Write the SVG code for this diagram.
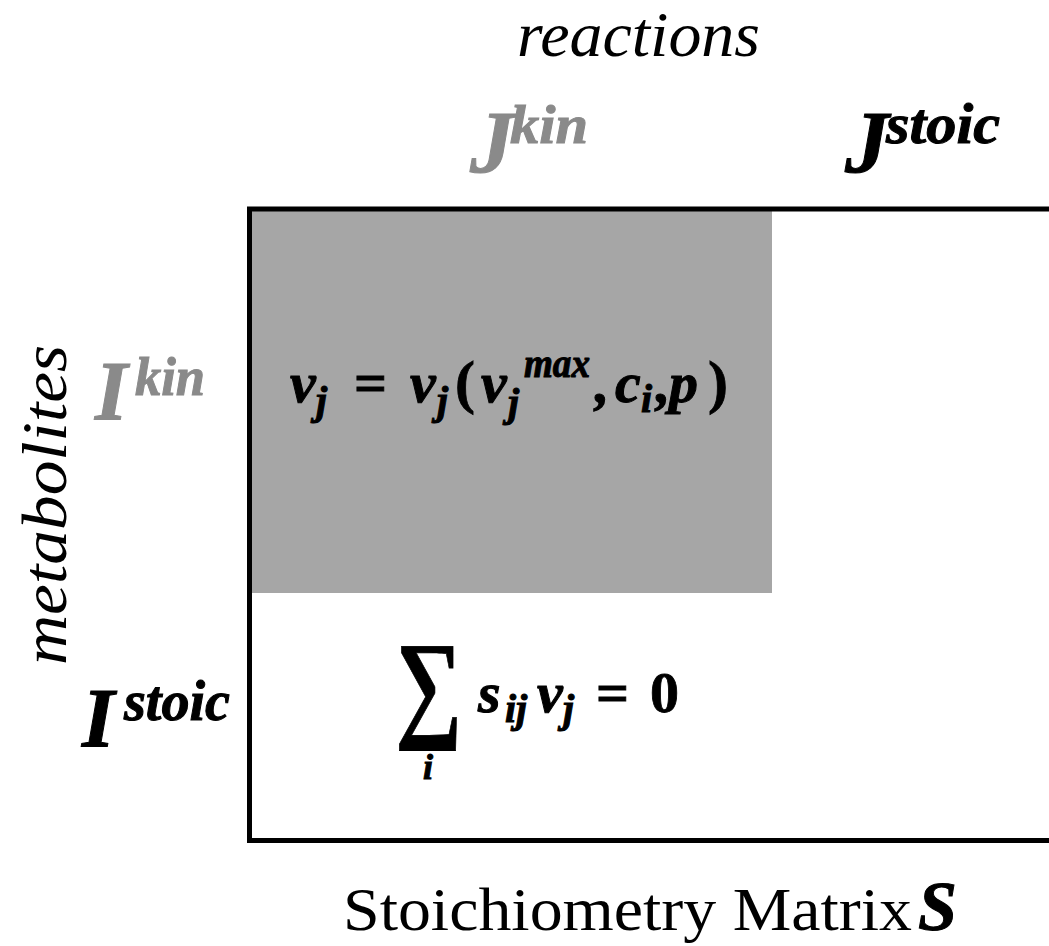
<svg xmlns="http://www.w3.org/2000/svg" width="1049" height="946" viewBox="0 0 1049 946">
<style>
.lab{font-family:"Liberation Serif",serif;font-style:italic;}
.bi{font-family:"Liberation Serif",serif;font-style:italic;font-weight:bold;stroke-width:1;}
.b{font-family:"Liberation Serif",serif;font-weight:bold;stroke-width:0.8;}
.gray{fill:#8a8a8a;stroke:#8a8a8a;}
.blk{fill:#000;stroke:#000;}
.m{font-size:58px;}
.sub{font-size:40px;}
</style>
<rect width="1049" height="946" fill="#fff"/>
<g id="kin-block">
<rect x="249.5" y="209" width="522.5" height="384" fill="#a6a6a6"/>
</g>
<g id="matrix">
<path d="M1055,209 H249.5 V840.5 H1055" fill="none" stroke="#000" stroke-width="5"/>
</g>
<g id="connectors"></g>
<g id="reactions-label">
<text class="lab" x="517" y="56" font-size="64" textLength="243" lengthAdjust="spacingAndGlyphs">reactions</text>
</g>
<g id="metabolites-label">
<text class="lab" font-size="64" text-anchor="middle" transform="translate(66,505) rotate(-90)" textLength="320" lengthAdjust="spacingAndGlyphs">metabolites</text>
</g>
<g id="J-kin" class="gray">
<text class="bi" x="470" y="172" font-size="88">J</text>
<text class="bi" x="510" y="143" font-size="54" textLength="78" lengthAdjust="spacingAndGlyphs">kin</text>
</g>
<g id="J-stoic" class="blk">
<text class="bi" x="845" y="172" font-size="88">J</text>
<text class="bi" x="886" y="143" font-size="56" textLength="114" lengthAdjust="spacingAndGlyphs">stoic</text>
</g>
<g id="I-kin" class="gray">
<text class="bi" x="95" y="420" font-size="84">I</text>
<text class="bi" x="135" y="395" font-size="54" textLength="70" lengthAdjust="spacingAndGlyphs">kin</text>
</g>
<g id="I-stoic" class="blk">
<text class="bi" x="82" y="747" font-size="84">I</text>
<text class="bi" x="124" y="720" font-size="56" textLength="106" lengthAdjust="spacingAndGlyphs">stoic</text>
</g>
<g id="kinetic-eq" class="blk">
<text class="bi m" x="290" y="402">v</text>
<text class="bi sub" x="316" y="414">j</text>
<text class="b m" x="354" y="402">=</text>
<text class="bi m" x="410" y="402">v</text>
<text class="bi sub" x="437" y="414">j</text>
<text class="b" x="455" y="402" font-size="60">(</text>
<text class="bi m" x="481" y="402">v</text>
<text class="bi sub" x="508" y="416">j</text>
<text class="bi sub" x="524" y="377" textLength="66" lengthAdjust="spacingAndGlyphs">max</text>
<text class="bi m" x="595" y="402">,</text>
<text class="bi m" x="615" y="402">c</text>
<text class="bi sub" x="641" y="412">i</text>
<text class="bi m" x="656" y="402">,</text>
<text class="bi m" x="669" y="402">p</text>
<text class="b" x="708" y="402" font-size="60">)</text>
</g>
<g id="stoic-eq" class="blk">
<text class="b" x="395" y="725" font-size="120" textLength="67" lengthAdjust="spacingAndGlyphs">∑</text>
<text class="bi" x="423" y="779" font-size="36">i</text>
<text class="bi m" x="478" y="712">s</text>
<text class="bi sub" x="505" y="722">ij</text>
<text class="bi m" x="537" y="712">v</text>
<text class="bi sub" x="563" y="722">j</text>
<text class="b m" x="596" y="712">=</text>
<text class="b m" x="650" y="712">0</text>
</g>
<g id="matrix-label">
<text x="343" y="930" font-family="Liberation Serif, serif" font-size="62" textLength="569" lengthAdjust="spacingAndGlyphs">Stoichiometry Matrix</text>
<text class="bi" x="918" y="930" font-size="70" stroke="#000" stroke-width="1">S</text>
</g>
</svg>
